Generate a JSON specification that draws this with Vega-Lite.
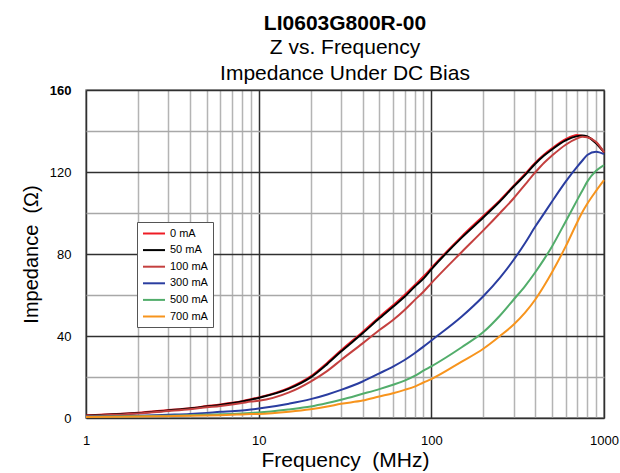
{
  "$schema": "https://vega.github.io/schema/vega-lite/v6.json",
  "width": 518,
  "height": 328,
  "autosize": "none",
  "padding": {"left": 86, "top": 90, "right": 16, "bottom": 55},
  "background": "white",
  "config": {
    "view": {"stroke": "#808080", "strokeWidth": 1.5},
    "font": "Liberation Sans"
  },
  "title": {
    "text": "LI0603G800R-00",
    "subtitle": ["Z vs. Frequency", "Impedance Under DC Bias"],
    "font": "Liberation Sans",
    "fontSize": 21,
    "fontWeight": "bold",
    "color": "black",
    "subtitleFont": "Liberation Sans",
    "subtitleFontSize": 21,
    "subtitleColor": "black",
    "subtitleLineHeight": 26,
    "subtitlePadding": 3,
    "anchor": "middle",
    "offset": 0
  },
  "data": {
    "values": [
      {"f": 1, "0 mA": 1.3, "50 mA": 1.1, "100 mA": 1.0, "300 mA": 0.7, "500 mA": 0.6, "700 mA": 0.5},
      {"f": 1.5, "0 mA": 1.9, "50 mA": 1.8, "100 mA": 1.6, "300 mA": 0.9, "500 mA": 0.75, "700 mA": 0.6},
      {"f": 2, "0 mA": 2.6, "50 mA": 2.4, "100 mA": 2.2, "300 mA": 1.1, "500 mA": 0.9, "700 mA": 0.7},
      {"f": 3, "0 mA": 3.9, "50 mA": 3.7, "100 mA": 3.4, "300 mA": 1.6, "500 mA": 1.1, "700 mA": 0.9},
      {"f": 4, "0 mA": 4.8, "50 mA": 4.6, "100 mA": 4.3, "300 mA": 2.0, "500 mA": 1.35, "700 mA": 1.05},
      {"f": 5, "0 mA": 5.8, "50 mA": 5.6, "100 mA": 5.2, "300 mA": 2.5, "500 mA": 1.6, "700 mA": 1.2},
      {"f": 6, "0 mA": 6.6, "50 mA": 6.4, "100 mA": 5.9, "300 mA": 3.0, "500 mA": 1.8, "700 mA": 1.4},
      {"f": 7, "0 mA": 7.4, "50 mA": 7.2, "100 mA": 6.6, "300 mA": 3.3, "500 mA": 2.0, "700 mA": 1.6},
      {"f": 8, "0 mA": 8.2, "50 mA": 8.0, "100 mA": 7.3, "300 mA": 3.6, "500 mA": 2.25, "700 mA": 1.75},
      {"f": 9, "0 mA": 9.1, "50 mA": 8.9, "100 mA": 8.0, "300 mA": 4.1, "500 mA": 2.5, "700 mA": 1.9},
      {"f": 10, "0 mA": 10.0, "50 mA": 9.8, "100 mA": 8.4, "300 mA": 4.6, "500 mA": 2.7, "700 mA": 2.0},
      {"f": 15, "0 mA": 14.7, "50 mA": 14.3, "100 mA": 12.5, "300 mA": 7.0, "500 mA": 4.2, "700 mA": 3.1},
      {"f": 20, "0 mA": 20.3, "50 mA": 19.8, "100 mA": 17.8, "300 mA": 9.2, "500 mA": 5.6, "700 mA": 4.3},
      {"f": 25, "0 mA": 27.0, "50 mA": 26.4, "100 mA": 23.0, "300 mA": 11.5, "500 mA": 7.3, "700 mA": 5.6},
      {"f": 30, "0 mA": 33.0, "50 mA": 32.4, "100 mA": 28.3, "300 mA": 13.7, "500 mA": 8.9, "700 mA": 6.9},
      {"f": 40, "0 mA": 42.0, "50 mA": 41.3, "100 mA": 36.4, "300 mA": 17.8, "500 mA": 11.8, "700 mA": 8.5},
      {"f": 50, "0 mA": 49.3, "50 mA": 48.6, "100 mA": 42.9, "300 mA": 21.8, "500 mA": 14.1, "700 mA": 10.5},
      {"f": 60, "0 mA": 55.0, "50 mA": 54.3, "100 mA": 47.8, "300 mA": 25.1, "500 mA": 16.2, "700 mA": 12.1},
      {"f": 70, "0 mA": 60.0, "50 mA": 59.1, "100 mA": 52.7, "300 mA": 28.3, "500 mA": 18.2, "700 mA": 13.7},
      {"f": 80, "0 mA": 64.8, "50 mA": 64.0, "100 mA": 57.5, "300 mA": 31.6, "500 mA": 20.5, "700 mA": 15.3},
      {"f": 90, "0 mA": 69.0, "50 mA": 68.0, "100 mA": 61.6, "300 mA": 34.8, "500 mA": 23.1, "700 mA": 17.3},
      {"f": 100, "0 mA": 73.2, "50 mA": 72.5, "100 mA": 65.8, "300 mA": 37.8, "500 mA": 25.2, "700 mA": 19.0},
      {"f": 150, "0 mA": 88.6, "50 mA": 88.0, "100 mA": 81.0, "300 mA": 49.5, "500 mA": 34.5, "700 mA": 27.5},
      {"f": 200, "0 mA": 98.6, "50 mA": 97.8, "100 mA": 91.5, "300 mA": 59.4, "500 mA": 41.9, "700 mA": 33.8},
      {"f": 250, "0 mA": 106.3, "50 mA": 105.7, "100 mA": 100.0, "300 mA": 68.5, "500 mA": 50.0, "700 mA": 40.0},
      {"f": 300, "0 mA": 113.3, "50 mA": 112.9, "100 mA": 107.2, "300 mA": 77.2, "500 mA": 57.8, "700 mA": 45.6},
      {"f": 350, "0 mA": 119.2, "50 mA": 118.6, "100 mA": 114.0, "300 mA": 85.5, "500 mA": 64.5, "700 mA": 51.5},
      {"f": 400, "0 mA": 124.5, "50 mA": 124.0, "100 mA": 119.8, "300 mA": 93.4, "500 mA": 71.1, "700 mA": 57.8},
      {"f": 450, "0 mA": 128.5, "50 mA": 128.0, "100 mA": 124.5, "300 mA": 99.8, "500 mA": 77.5, "700 mA": 64.5},
      {"f": 500, "0 mA": 131.5, "50 mA": 131.0, "100 mA": 128.0, "300 mA": 105.6, "500 mA": 83.7, "700 mA": 71.1},
      {"f": 600, "0 mA": 136.0, "50 mA": 135.4, "100 mA": 133.3, "300 mA": 115.3, "500 mA": 95.9, "700 mA": 83.7},
      {"f": 700, "0 mA": 138.0, "50 mA": 137.5, "100 mA": 136.4, "300 mA": 122.6, "500 mA": 106.4, "700 mA": 95.5},
      {"f": 750, "0 mA": 137.6, "50 mA": 137.8, "100 mA": 137.2, "300 mA": 125.6, "500 mA": 111.0, "700 mA": 100.5},
      {"f": 800, "0 mA": 137.2, "50 mA": 137.3, "100 mA": 137.0, "300 mA": 128.3, "500 mA": 115.3, "700 mA": 104.5},
      {"f": 900, "0 mA": 134.3, "50 mA": 134.0, "100 mA": 134.6, "300 mA": 129.9, "500 mA": 120.6, "700 mA": 110.8},
      {"f": 1000, "0 mA": 129.5, "50 mA": 129.7, "100 mA": 129.7, "300 mA": 128.7, "500 mA": 123.4, "700 mA": 116.0}
    ]
  },
  "transform": [
    {"fold": ["0 mA", "50 mA", "100 mA", "300 mA", "500 mA", "700 mA"], "as": ["bias", "z"]}
  ],
  "resolve": {"axis": {"x": "independent", "y": "independent"}},
  "layer": [
    {
      "mark": {"type": "point", "opacity": 0},
      "encoding": {
        "x": {
          "field": "f", "type": "quantitative",
          "scale": {"type": "log", "domain": [1, 1000]},
          "axis": {
            "orient": "bottom",
            "values": [2, 3, 4, 5, 6, 7, 8, 9, 20, 30, 40, 50, 60, 70, 80, 90, 200, 300, 400, 500, 600, 700, 800, 900],
            "grid": true, "gridColor": "#b4b4b4", "gridWidth": 1.5,
            "labels": false, "ticks": false, "domain": false, "title": null
          }
        },
        "y": {
          "field": "z", "type": "quantitative",
          "scale": {"domain": [0, 160]},
          "axis": {
            "orient": "left",
            "values": [20, 60, 100, 140],
            "grid": true, "gridColor": "#a8a8a8", "gridWidth": 1.5,
            "labels": false, "ticks": false, "domain": false, "title": null
          }
        }
      }
    },
    {
      "mark": {"type": "line", "strokeWidth": 2, "interpolate": "monotone"},
      "encoding": {
        "x": {
          "field": "f", "type": "quantitative",
          "scale": {"type": "log", "domain": [1, 1000]},
          "axis": {
            "orient": "bottom",
            "values": [1, 10, 100, 1000],
            "format": "d",
            "grid": true, "gridColor": "#303030", "gridWidth": 1.5,
            "ticks": false, "domain": false,
            "labelFont": "Liberation Sans", "labelFontSize": 13, "labelColor": "black",
            "labelPadding": 16, "labelFlush": false,
            "title": "Frequency \u00a0(MHz)",
            "titleFont": "Liberation Sans", "titleFontSize": 21, "titleFontWeight": "normal", "titleColor": "black",
            "titlePadding": 2
          }
        },
        "y": {
          "field": "z", "type": "quantitative",
          "scale": {"domain": [0, 160]},
          "axis": {
            "orient": "left",
            "values": [0, 40, 80, 120, 160],
            "grid": true, "gridColor": "#303030", "gridWidth": 1.5,
            "ticks": false, "domain": false,
            "labelFont": "Liberation Sans", "labelFontSize": 13, "labelColor": "black",
            "labelFontWeight": {"condition": {"test": "datum.value == 160", "value": "bold"}, "value": "normal"},
            "labelPadding": 15, "labelFlush": false,
            "title": "Impedance \u00a0(\u03a9)",
            "titleFont": "Liberation Sans", "titleFontSize": 20, "titleFontWeight": "normal", "titleColor": "black",
            "titlePadding": 8
          }
        },
        "color": {
          "field": "bias", "type": "nominal",
          "sort": ["0 mA", "50 mA", "100 mA", "300 mA", "500 mA", "700 mA"],
          "scale": {
            "domain": ["0 mA", "50 mA", "100 mA", "300 mA", "500 mA", "700 mA"],
            "range": ["#ee1c25", "#000000", "#c4403f", "#2a3da0", "#52ad6b", "#f7941d"]
          },
          "legend": {
            "orient": "none", "legendX": 51, "legendY": 132,
            "title": null,
            "fillColor": "white", "strokeColor": "#555555", "padding": 5,
            "symbolType": "M-1,0L3,0", "symbolStrokeWidth": 2, "symbolSize": 121,
            "labelFont": "Liberation Sans", "labelFontSize": 11, "labelColor": "black",
            "rowPadding": 4.6, "labelOffset": 15
          }
        },
        "order": {"field": "bias", "sort": "ascending"}
      }
    }
  ]
}
